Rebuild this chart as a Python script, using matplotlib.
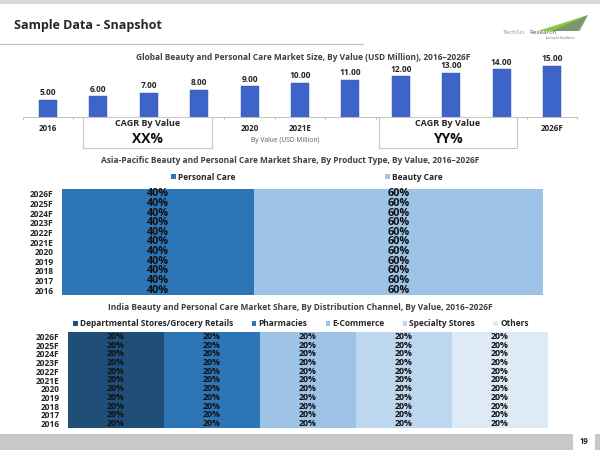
import matplotlib
matplotlib.use("Agg")
import matplotlib.pyplot as plt
from matplotlib.patches import Rectangle, Polygon
from matplotlib.lines import Line2D

plt.rcParams['font.family'] = ['Open Sans', 'DejaVu Sans']

# ---------------- data ----------------
years = ["2016", "2017", "2018", "2019", "2020", "2021E", "2022F", "2023F",
         "2024F", "2025F", "2026F"]
# x labels visible on the size chart (others hidden behind the CAGR boxes)
size_axis_labels = ["2016", "", "", "", "2020", "2021E", "", "", "", "", "2026F"]
market_size = [5.00, 6.00, 7.00, 8.00, 9.00, 10.00, 11.00, 12.00, 13.00, 14.00, 15.00]

product_types = ["Personal Care", "Beauty Care"]
personal_care = [40] * 11
beauty_care = [60] * 11

channels = ["Departmental Stores/Grocery Retails", "Pharmacies", "E-Commerce",
            "Specialty Stores", "Others"]
dept_stores = [20] * 11
pharmacies = [20] * 11
ecommerce = [20] * 11
specialty = [20] * 11
others = [20] * 11

W, H = 600, 450
fig = plt.figure(figsize=(6, 4.5), dpi=100)


def ax_at(x0, y0, x1, y1):
    """pixel box (top-left origin) -> axes"""
    return fig.add_axes([x0 / W, 1 - y1 / H, (x1 - x0) / W, (y1 - y0) / H])


def ftxt(x, y, s, **kw):
    fig.text(x / W, 1 - y / H, s, **kw)


def frect(x0, y0, x1, y1, **kw):
    fig.patches.append(Rectangle((x0 / W, 1 - y1 / H), (x1 - x0) / W, (y1 - y0) / H,
                                 transform=fig.transFigure, **kw))


# ---------------- slide decoration ----------------
frect(0, 0, 600, 4, facecolor='#d9d9d9', edgecolor='none', zorder=0)
ftxt(14, 25, "Sample Data - Snapshot", fontsize=9, fontweight='bold', color='#262626',
     va='center', ha='left')
fig.add_artist(Line2D([0, 363 / W], [1 - 44 / H, 1 - 44 / H], transform=fig.transFigure,
                      color='#bfbfbf', lw=0.8))
# logo
fig.patches.append(Polygon([(538 / W, 1 - 31 / H), (588 / W, 1 - 15 / H), (578 / W, 1 - 31 / H)],
                           closed=True, transform=fig.transFigure,
                           facecolor='#8dc63f', edgecolor='none'))
fig.patches.append(Polygon([(552 / W, 1 - 31 / H), (588 / W, 1 - 15 / H), (580 / W, 1 - 31 / H)],
                           closed=True, transform=fig.transFigure,
                           facecolor='#6d7b8a', edgecolor='none', alpha=0.6))
ftxt(503, 33, "TechSci", fontsize=4.6, color='#6aa84f', va='center', ha='left')
ftxt(529, 33, "Research", fontsize=4.6, color='#4d4d4d', va='center', ha='left')
ftxt(545, 38.5, "Journey to Excellence", fontsize=2.2, color='#666666', va='center', ha='left')

# bottom band
frect(0, 434, 573, 450, facecolor='#c8c8c8', edgecolor='none', zorder=0)
frect(595, 434, 600, 450, facecolor='#c8c8c8', edgecolor='none', zorder=0)
ftxt(584, 441, "19", fontsize=5.5, fontweight='bold', color='#262626', va='center', ha='center')

# ---------------- chart 1: market size ----------------
ftxt(303, 58, "Global Beauty and Personal Care Market Size, By Value (USD Million), 2016\u20132026F",
     fontsize=6.0, fontweight='bold', color='#404040', ha='center', va='center')
ax1 = ax_at(22.8, 60, 577.2, 116.7)
xs = list(range(len(years)))
ax1.bar(xs, market_size, width=0.36, color='#3d65c9', edgecolor='#3556b0', lw=0.3)
for x, v in zip(xs, market_size):
    ax1.text(x, v + 0.8, f"{v:.2f}", ha='center', va='bottom', fontsize=6.0,
             fontweight='bold', color='#262626')
ax1.set_xlim(-0.5, len(years) - 0.5)
ax1.set_ylim(0, 16.8)
ax1.set_yticks([])
ax1.set_xticks(xs)
ax1.set_xticklabels(size_axis_labels, fontsize=5.8, fontweight='bold', color='#262626')
ax1.tick_params(axis='x', which='major', length=0, pad=5)
ax1.set_xticks([i + 0.5 for i in range(-1, len(years))], minor=True)
ax1.tick_params(axis='x', which='minor', length=2.5, color='#bfbfbf', width=0.6)
for s in ['top', 'right', 'left']:
    ax1.spines[s].set_visible(False)
ax1.spines['bottom'].set_color('#bfbfbf')
ax1.spines['bottom'].set_linewidth(0.7)
ax1.set_facecolor('none')

# CAGR boxes
for (x0, x1, val) in [(83, 212, "XX%"), (379, 517, "YY%")]:
    frect(x0, 117, x1, 148, facecolor='white', edgecolor='#c8c8c8', lw=0.8, zorder=5)
    ftxt((x0 + x1) / 2, 123.5, "CAGR By Value", fontsize=6.5, fontweight='bold',
         color='#262626', ha='center', va='center', zorder=6)
    ftxt((x0 + x1) / 2, 139, val, fontsize=10, fontweight='bold',
         color='#111111', ha='center', va='center', zorder=6)
ftxt(285, 141, "By Value (USD Million)", fontsize=4.8, color='#595959', ha='center', va='center')

# ---------------- chart 2: product type ----------------
ftxt(290, 160, "Asia-Pacific Beauty and Personal Care Market Share, By Product Type, By Value, 2016\u20132026F",
     fontsize=6.0, fontweight='bold', color='#404040', ha='center', va='center')
ax2 = ax_at(62, 189, 543, 295)
c2 = ['#2e75b6', '#9dc3e6']
left = [0] * len(years)
for name, vals, col in zip(product_types, [personal_care, beauty_care], c2):
    ax2.barh(xs, vals, left=left, height=1.0, color=col, label=name, edgecolor='none')
    for y, v, l in zip(xs, vals, left):
        ax2.text(l + v / 2, y, f"{v}%", ha='center', va='center', fontsize=7.8,
                 fontweight='bold', color='#111111')
    left = [a + b for a, b in zip(left, vals)]
ax2.set_xlim(0, 100)
ax2.set_ylim(-0.5, len(years) - 0.5)
ax2.set_xticks([])
ax2.set_yticks(xs)
ax2.set_yticklabels(years, fontsize=6.0, fontweight='bold', color='#262626')
ax2.tick_params(axis='y', length=0, pad=6)
for s in ax2.spines.values():
    s.set_visible(False)
leg2 = fig.legend(*ax2.get_legend_handles_labels(), loc='center', bbox_to_anchor=(307 / W, 1 - 177 / H),
                  ncol=2, frameon=False, fontsize=6.0, handlelength=0.5, handleheight=0.5,
                  handletextpad=0.3, columnspacing=18)
for t in leg2.get_texts():
    t.set_fontweight('bold')
    t.set_color('#262626')

# ---------------- chart 3: distribution channel ----------------
ftxt(300, 307, "India Beauty and Personal Care Market Share, By Distribution Channel, By Value, 2016\u20132026F",
     fontsize=6.0, fontweight='bold', color='#404040', ha='center', va='center')
ax3 = ax_at(67.7, 332, 547.7, 428)
c3 = ['#1f4e79', '#2e75b6', '#9dc3e6', '#bdd7ee', '#deebf7']
left = [0] * len(years)
for name, vals, col in zip(channels, [dept_stores, pharmacies, ecommerce, specialty, others], c3):
    ax3.barh(xs, vals, left=left, height=1.0, color=col, label=name, edgecolor='none')
    for y, v, l in zip(xs, vals, left):
        ax3.text(l + v / 2, y, f"{v}%", ha='center', va='center', fontsize=6.3,
                 fontweight='bold', color='#111111')
    left = [a + b for a, b in zip(left, vals)]
ax3.set_xlim(0, 100)
ax3.set_ylim(-0.5, len(years) - 0.5)
ax3.set_xticks([])
ax3.set_yticks(xs)
ax3.set_yticklabels(years, fontsize=6.0, fontweight='bold', color='#262626')
ax3.tick_params(axis='y', length=0, pad=6)
for s in ax3.spines.values():
    s.set_visible(False)
leg3 = fig.legend(*ax3.get_legend_handles_labels(), loc='center', bbox_to_anchor=(301 / W, 1 - 324 / H),
                  ncol=5, frameon=False, fontsize=6.0, handlelength=0.5, handleheight=0.5,
                  handletextpad=0.3, columnspacing=2.2)
for t in leg3.get_texts():
    t.set_fontweight('bold')
    t.set_color('#262626')

fig.savefig("out.png", dpi=100)
